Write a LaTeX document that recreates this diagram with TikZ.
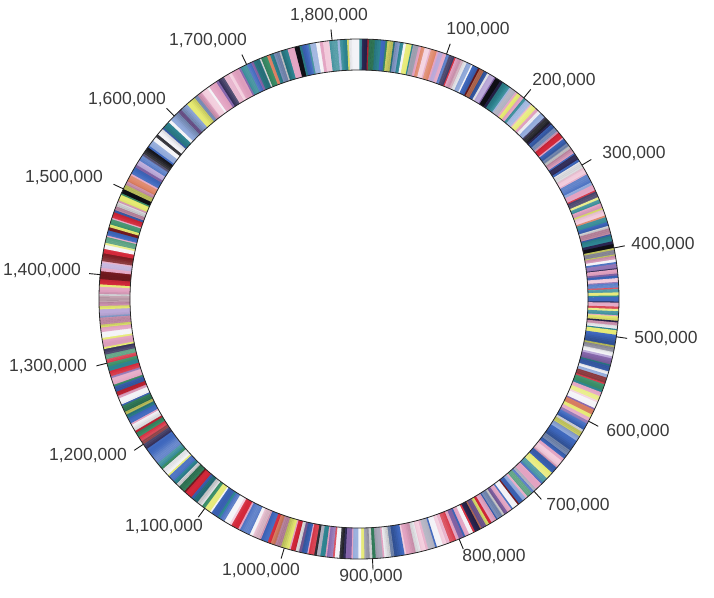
\documentclass[tikz,border=0pt]{standalone}
\usepackage{fontspec}
\setmainfont{Liberation Sans}
\definecolor{cpk}{HTML}{E3A3C2}
\definecolor{clpk}{HTML}{F2CADB}
\definecolor{cbl}{HTML}{3F68BE}
\definecolor{clb}{HTML}{8FA8DA}
\definecolor{ctl}{HTML}{2F8794}
\definecolor{cgr}{HTML}{3B8F68}
\definecolor{cyl}{HTML}{E6EA72}
\definecolor{crd}{HTML}{D3283A}
\definecolor{cdr}{HTML}{7A1C22}
\definecolor{cpu}{HTML}{8868AE}
\definecolor{cdp}{HTML}{2B2652}
\definecolor{cbk}{HTML}{111118}
\definecolor{cwh}{HTML}{F3F3F7}
\definecolor{csa}{HTML}{DE8264}
\definecolor{cgy}{HTML}{A9A9BA}
\definecolor{clav}{HTML}{BBA9D9}
\definecolor{labgray}{HTML}{3A3A3A}
\def\Ro{260pt}
\def\Ri{229pt}
\def\Rt{271pt}
\newcommand\band[3]{%
  \gdef\bcount{0}%
  \foreach \c in {#3}{\xdef\bcount{\the\numexpr\bcount+1\relax}}%
  \foreach \c [count=\i from 0] in {#3}{%
    \pgfmathsetmacro\ja{ifthenelse(\i==0,0,0.33*sin(\i*211+#1*0.1))}%
    \pgfmathsetmacro\jb{ifthenelse(\i+1==\bcount,0,0.33*sin((\i+1)*211+#1*0.1))}%
    \pgfmathsetmacro\aa{90-(#1+(#2-#1)*(\i+\ja)/\bcount)*0.196706}%
    \pgfmathsetmacro\ab{90-(#1+(#2-#1)*(\i+1+\jb)/\bcount)*0.196706-0.12}%
    \fill[\c] (\aa:\Ro) arc[start angle=\aa,end angle=\ab,radius=\Ro] -- (\ab:\Ri) arc[start angle=\ab,end angle=\aa,radius=\Ri] -- cycle;
  }%
}
\tikzset{
  ringline/.style={line width=0.8pt, draw=black!85},
  tickline/.style={line width=0.9pt, draw=black!90},
  poslabel/.style={font=\fontsize{17.5}{20}\selectfont, text=labgray, inner sep=0pt, anchor=center}
}
\begin{document}
\begin{tikzpicture}
\useasboundingbox (-359pt,-298pt) rectangle (355pt,299pt);
\band{0}{100}{ctl,cdp,crd,cgr,ctl,ctl,cbl,cgr,cyl,ctl,clb,ctl,cwh,cyl,ctl,cgy,cpk,csa,clpk,cpk,csa,cpk,clav,cpk}
\band{100}{200}{cbl,cdp,crd,cpk,clpk,cwh,clb,cwh,cbl,cdr,csa,cbl,cwh,clav,cpu,cbk,cdp,ctl,ctl,clb,cgy,cpk,cyl,cpk}
\band{200}{300}{ctl,clb,cpk,cyl,cpk,cwh,clb,cdp,cbk,cdp,cbl,clb,cpk,crd,cpk,cbl,clb,cwh,cpk,cbl,cdp,cbl,cwh}
\band{300}{400}{cwh,clpk,cpk,cbl,cbl,clb,cpk,crd,cdp,cyl,ctl,cpk,cyl,clpk,csa,ctl,cbl,cwh,cpk,cbl,ctl,cdp,cbk}
\band{400}{500}{cyl,cgy,cyl,cpk,cwh,cbl,cpu,cdp,cpk,cpu,cbl,clpk,cpu,cbl,crd,ctl,cyl,ctl,cbl,cdp,cpk,crd,cyl,ctl,cpk,cyl,cdp,cpk,cwh,ctl,cyl,cbl}
\band{500}{600}{cbl,cbl,cyl,cgy,cwh,clav,cpu,ctl,cbl,cwh,clb,cdr,crd,cgr,ctl,cpk,cyl,clpk,cwh,cpu,csa,cyl,cpk}
\band{600}{700}{cpu,cbl,cwh,cyl,clb,cbl,cbl,cbl,clb,cbl,cpk,clpk,cpk,cbl,cyl,cyl,ctl,cbl,cpk,cgy}
\band{700}{800}{cbl,cgr,cpk,clb,cbl,cdr,cwh,cbl,cpk,cpu,cwh,clb,cbl,cpk,crd,cyl,cpu,csa,cdp,crd,cwh,cpk,cbl,cpu}
\band{800}{900}{cpk,crd,cpk,clpk,cwh,cbl,cgy,cpk,clpk,cwh,cpk,cpk,clpk,cbl,cbl,clb,cwh,cpk,cgy,cgr}
\band{900}{1000}{cwh,cgy,cyl,cwh,clb,cpk,cpu,cdp,cbk,cwh,crd,cpu,cpk,ctl,cgy,cbk,crd,cpk,cbl,cpu,cwh,crd,cpk,cyl}
\band{1000}{1100}{cyl,cpk,csa,crd,cbl,cpk,clpk,cwh,cbl,cbl,cpk,crd,clpk,cwh,cbl,ctl,cbl,cwh,cyl}
\band{1100}{1200}{cgr,cwh,ctl,cbl,crd,cdr,cgr,cwh,ctl,cbl,cyl,cwh,cgr,ctl,cbl,cbl,cbl,cbl,cdp}
\band{1200}{1300}{cdr,crd,cgr,crd,cwh,cpk,cbl,ctl,cyl,cgr,cbl,cwh,cpk,crd,cbl,cgr,cpk,cpu,crd,ctl,cgr}
\band{1300}{1400}{crd,cgr,cdp,cyl,cpk,cyl,cwh,cpk,cyl,cpk,clb,clav,cyl,cpk,clpk,cwh,cpk,cyl,crd,cdr}
\band{1400}{1500}{cdr,cpk,clav,cpk,cdr,cdr,crd,cwh,cyl,cgr,cpk,cbl,cdr,cyl,cgr,cpk,crd,cbl,cpk,cwh,cpk,cyl,cgr,cbk}
\band{1500}{1600}{cyl,cpk,csa,cpk,cbl,cpu,clav,cbl,cdp,cbk,cbl,clb,cwh,cbk,cwh,cbl,ctl,cwh,clb}
\band{1600}{1700}{clb,cpu,clb,cyl,cyl,clb,cpk,clpk,cwh,cpk,cpu,cdp,cpk,clpk,cpk,cpu,ctl}
\band{1700}{1800}{cbl,cpu,ctl,cwh,cgr,csa,ctl,clb,cwh,ctl,cpk,cpk,cbk,ctl,cbl,ctl,clb,cwh,cpk,clpk,ctl}
\band{1800}{1830.138}{ctl,clb,ctl,cyl,cwh,cwh}
% fine texture over the stripes
\foreach \k in {0,...,899}{%
  \pgfmathsetmacro\aa{\k*0.4}%
  \pgfmathsetmacro\ab{\k*0.4+0.42}%
  \pgfmathsetmacro\h{sin(\k*17)*sin(\k*11+13)}%
  \pgfmathsetmacro\op{abs(\h)*0.22}%
  \pgfmathsetmacro\tc{ifthenelse(\h>0,"white","black")}%
  \fill[\tc, opacity=\op] (\aa:\Ro) arc[start angle=\aa,end angle=\ab,radius=\Ro] -- (\ab:\Ri) arc[start angle=\ab,end angle=\aa,radius=\Ri] -- cycle;
}
\draw[ringline] (0,0) circle[radius=\Ro];
\draw[ringline] (0,0) circle[radius=\Ri];
\foreach \p/\t/\lx/\ly in {100/{100,000}/478/30,200/{200,000}/564/81,300/{300,000}/634/154,400/{400,000}/663/245,500/{500,000}/666/339,600/{600,000}/638/432,700/{700,000}/578/506,800/{800,000}/494/557,900/{900,000}/371/577,1000/{1,000,000}/261/571,1100/{1,100,000}/164/527,1200/{1,200,000}/88/456,1300/{1,300,000}/48/367,1400/{1,400,000}/42/271,1500/{1,500,000}/64/178,1600/{1,600,000}/127/100,1700/{1,700,000}/208/41,1800/{1,800,000}/329/16}{
  \pgfmathsetmacro\th{90-\p*0.196706}
  \coordinate (tin\p) at (\th:\Ro);
  \coordinate (tout\p) at (\th:\Rt);
  \draw[tickline] (tin\p) -- (tout\p);
  \node[poslabel] (lab\p) at (\lx pt-359pt, 299pt-\ly pt) {\t};
}
\end{tikzpicture}
\end{document}
